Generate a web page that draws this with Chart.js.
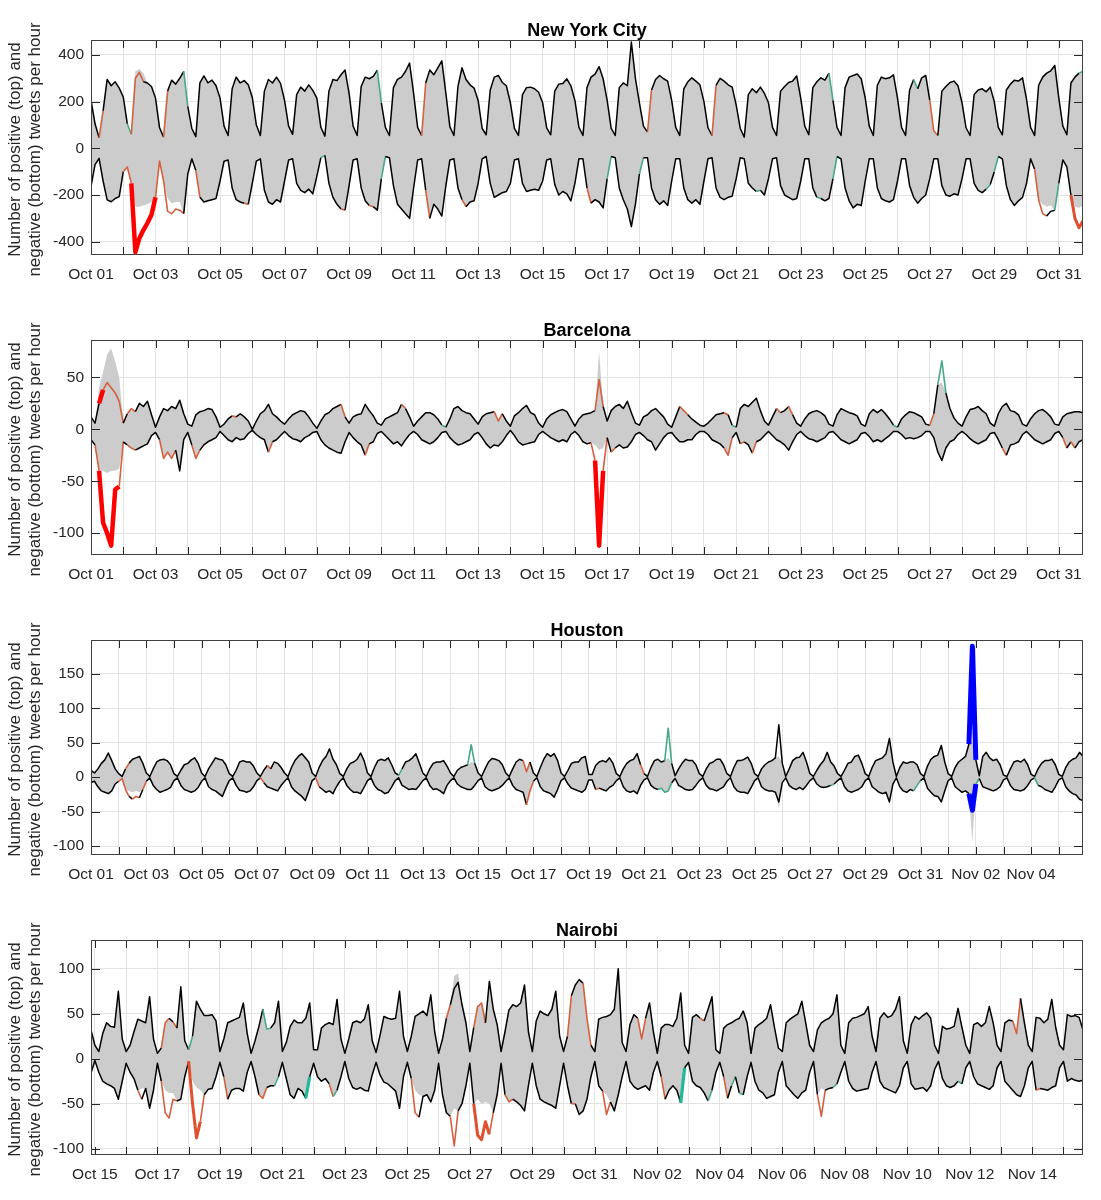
<!DOCTYPE html>
<html lang="en">
<head>
<meta charset="utf-8">
<title>Positive and negative tweets per hour</title>
<script src="https://cdn.jsdelivr.net/npm/chart.js@4.4.1/dist/chart.umd.min.js"></script>
<style>
  html, body { margin: 0; padding: 0; background: #fff; }
  #wrap { position: relative; width: 1101px; height: 1200px; }
  #wrap canvas { position: absolute; left: 0; }
</style>
</head>
<body>
<div id="wrap">
  <canvas id="nyc" width="1101" height="300" style="top:0px"></canvas>
  <canvas id="bcn" width="1101" height="300" style="top:300px"></canvas>
  <canvas id="hou" width="1101" height="300" style="top:600px"></canvas>
  <canvas id="nbo" width="1101" height="300" style="top:900px"></canvas>
</div>
<script>
/* ---------- DATA (3-hourly samples, hour 0 = first labelled day 00:00) ---------- */
const STEP = 3;
const Y_LABEL = ['Number of positive (top) and', 'negative (bottom) tweets per hour'];

// marks: [fromHour, toHour, kind]  o = below band, O = strong below, r = alert, t = above band, T = strong above, b = alert (blue)
// band fixes: [hour, value] where the grey expected range differs from the observed line

/* New York City */
const nycTickLabels = ['Oct 01','Oct 03','Oct 05','Oct 07','Oct 09','Oct 11','Oct 13','Oct 15',
  'Oct 17','Oct 19','Oct 21','Oct 23','Oct 25','Oct 27','Oct 29','Oct 31'];
const nycYTicks = [-400, -200, 0, 200, 400];
const nycPos = [
  207,105,45,160,295,268,285,258,
  220,105,60,300,325,285,280,265,
  215,88,48,245,292,275,300,330,
  180,85,50,280,310,280,292,268,
  215,95,55,255,305,280,290,272,
  218,100,55,245,295,280,305,278,
  205,95,60,230,262,245,272,248,
  215,90,52,245,295,290,315,335,
  235,95,55,265,305,298,308,335,
  195,90,55,260,295,305,330,365,
  235,90,55,280,335,315,345,375,
  235,92,55,265,345,295,272,258,
  205,85,58,250,305,312,282,268,
  195,85,55,230,260,262,255,240,
  195,88,58,245,275,278,298,268,
  205,90,55,260,305,318,350,298,
  205,85,55,260,280,268,455,300,
  195,95,70,250,295,312,298,288,
  205,90,55,255,285,302,288,272,
  200,88,55,270,300,288,272,262,
  185,85,48,230,255,238,262,235,
  195,90,55,245,265,282,288,310,
  215,95,58,260,285,302,292,322,
  205,90,55,260,305,312,318,298,
  215,95,55,270,305,298,302,315,
  215,90,55,250,295,255,302,312,
  205,75,55,245,265,282,288,268,
  195,88,55,230,250,255,242,262,
  200,90,58,250,275,292,288,302,
  210,90,55,270,305,322,332,355,
  215,95,58,280,305,322,330
];
const nycNeg = [
  -164,-70,-43,-140,-221,-229,-215,-207,
  -100,-80,-150,-445,-385,-350,-320,-285,
  -210,-55,-140,-270,-280,-260,-265,-280,
  -110,-45,-95,-210,-230,-225,-220,-215,
  -140,-55,-50,-170,-220,-230,-235,-240,
  -150,-55,-45,-180,-230,-240,-220,-230,
  -140,-50,-45,-150,-180,-190,-175,-195,
  -120,-40,-30,-150,-210,-240,-260,-265,
  -160,-50,-45,-170,-225,-245,-250,-265,
  -130,-35,-40,-160,-240,-260,-280,-300,
  -170,-50,-45,-180,-300,-240,-260,-290,
  -160,-50,-45,-170,-220,-250,-230,-225,
  -150,-45,-35,-150,-210,-200,-190,-185,
  -150,-50,-45,-150,-185,-180,-175,-180,
  -140,-50,-45,-155,-200,-185,-195,-225,
  -150,-45,-45,-170,-235,-220,-230,-255,
  -130,-35,-40,-170,-220,-260,-335,-240,
  -110,-40,-40,-170,-220,-240,-225,-245,
  -140,-45,-45,-170,-220,-235,-220,-240,
  -140,-45,-40,-170,-210,-220,-210,-205,
  -130,-40,-45,-150,-170,-185,-180,-200,
  -130,-45,-40,-160,-200,-210,-220,-215,
  -140,-45,-45,-170,-210,-215,-225,-215,
  -130,-35,-45,-170,-225,-255,-240,-245,
  -140,-45,-45,-170,-215,-225,-230,-220,
  -140,-45,-45,-160,-210,-235,-215,-200,
  -130,-45,-45,-160,-200,-205,-195,-200,
  -130,-45,-45,-150,-180,-190,-175,-155,
  -100,-35,-45,-160,-220,-245,-225,-210,
  -150,-45,-90,-220,-280,-290,-270,-265,
  -150,-50,-80,-200,-300,-340,-310
];
const nycPosMarks = [[6,9,'o'],[27,30,'t'],[30,39,'o'],[54,57,'o'],[69,72,'t'],[213,216,'t'],[246,249,'o'],
  [414,417,'o'],[462,465,'o'],[549,552,'t'],[612,615,'t'],[624,630,'o'],[735,738,'t']];
const nycNegMarks = [[24,30,'o'],[30,48,'r'],[48,69,'o'],[78,81,'o'],[114,117,'o'],[171,174,'t'],[186,189,'o'],
  [207,210,'o'],[216,219,'t'],[249,252,'o'],[276,279,'o'],[369,372,'o'],[384,387,'t'],[408,411,'t'],
  [495,498,'t'],[540,543,'t'],[552,555,'t'],[666,669,'t'],[672,675,'t'],[702,711,'o'],[717,720,'t'],[729,738,'O']];
const nycPosBandFix = [[33,330],[36,340],[39,320]];
const nycNegBandFix = [[33,-250],[36,-250],[39,-245],[42,-240],[45,-230],[57,-215],[60,-235],[63,-230],[66,-230],
  [708,-240],[711,-250],[714,-245],[732,-250],[735,-255],[738,-245]];

/* Barcelona */
const bcnTickLabels = nycTickLabels.slice();
const bcnYTicks = [-100, -50, 0, 50];
const bcnPos = [
  12,6,25,38,45,40,35,27,
  6,15,20,17,25,22,27,14,
  2,12,20,18,22,20,28,15,
  5,3,14,17,18,20,19,12,
  2,5,10,13,12,15,12,8,
  0,8,15,18,24,15,12,8,
  5,10,14,16,18,17,12,6,
  1,8,14,16,20,22,24,12,
  6,12,14,15,24,18,13,6,
  4,10,12,14,16,24,20,12,
  3,8,12,16,16,14,10,4,
  2,10,20,22,18,16,15,10,
  5,12,15,16,17,8,15,8,
  3,13,16,20,23,16,14,6,
  2,10,14,16,18,19,17,10,
  3,10,14,15,16,18,48,22,
  8,18,22,24,20,27,16,6,
  4,12,14,18,20,16,12,5,
  2,12,22,18,14,10,7,4,
  3,6,10,14,15,16,14,4,
  2,20,24,22,26,30,18,8,
  4,12,20,16,18,22,14,6,
  3,10,15,17,18,16,13,5,
  3,14,20,18,16,15,13,5,
  3,15,19,16,19,15,10,4,
  2,10,14,17,16,14,12,5,
  4,15,43,66,35,20,11,6,
  3,12,19,20,22,18,15,6,
  3,15,22,25,18,17,14,5,
  3,10,15,18,19,16,12,5,
  4,12,15,16,17,17,16
];
const bcnNeg = [
  -10,-15,-40,-90,-100,-112,-58,-55,
  -12,-15,-18,-20,-18,-16,-14,-6,
  -3,-10,-28,-22,-28,-20,-40,-10,
  -3,-15,-28,-20,-15,-12,-10,-8,
  -2,-6,-10,-12,-8,-10,-9,-4,
  -1,-5,-8,-10,-22,-12,-10,-6,
  -2,-6,-9,-10,-12,-8,-6,-3,
  -2,-10,-15,-18,-20,-22,-23,-12,
  -3,-8,-12,-15,-25,-14,-12,-4,
  -2,-6,-10,-14,-12,-16,-10,-5,
  -2,-5,-10,-12,-14,-12,-8,-3,
  -2,-8,-12,-15,-14,-12,-10,-5,
  -3,-8,-14,-18,-15,-16,-12,-6,
  -1,-6,-12,-15,-14,-13,-12,-5,
  -2,-5,-8,-10,-12,-10,-12,-5,
  -2,-6,-12,-14,-13,-30,-112,-40,
  -8,-22,-18,-15,-18,-17,-12,-5,
  -3,-6,-10,-12,-20,-14,-8,-4,
  -3,-8,-12,-12,-10,-10,-5,-2,
  -2,-5,-10,-12,-14,-18,-25,-8,
  -3,-14,-12,-15,-23,-12,-10,-6,
  -2,-6,-10,-12,-15,-20,-12,-5,
  -2,-6,-9,-10,-12,-10,-8,-3,
  -2,-6,-10,-12,-14,-12,-10,-4,
  -3,-7,-12,-10,-12,-9,-6,-2,
  -2,-5,-9,-8,-9,-8,-6,-2,
  -2,-8,-22,-30,-18,-12,-10,-5,
  -2,-5,-9,-12,-14,-12,-10,-4,
  -3,-10,-18,-25,-15,-14,-12,-5,
  -2,-6,-10,-12,-14,-12,-10,-4,
  -2,-8,-18,-12,-18,-12,-10
];
const bcnPosMarks = [[6,9,'r'],[9,24,'o'],[27,33,'o'],[105,108,'o'],[186,189,'o'],[231,234,'o'],[261,264,'t'],
  [300,306,'o'],[375,381,'o'],[438,444,'o'],[471,474,'o'],[477,480,'t'],[510,513,'o'],[519,522,'o'],
  [597,600,'t'],[624,627,'o'],[630,636,'t']];
const bcnNegMarks = [[3,6,'o'],[6,21,'r'],[21,24,'o'],[27,33,'o'],[51,63,'o'],[75,81,'o'],[132,135,'o'],
  [204,207,'o'],[372,375,'o'],[375,381,'r'],[381,384,'o'],[387,390,'o'],[471,477,'o'],[483,486,'o'],
  [492,495,'o'],[678,681,'o'],[723,726,'o'],[729,732,'o']];
const bcnPosBandFix = [[6,40],[9,55],[12,72],[15,78],[18,65],[21,50],[378,75],[633,45]];
const bcnNegBandFix = [[9,-40],[12,-42],[15,-40],[18,-40],[21,-38],[375,-15],[378,-20],[381,-18]];

/* Houston */
const houTickLabels = ['Oct 01','Oct 03','Oct 05','Oct 07','Oct 09','Oct 11','Oct 13','Oct 15','Oct 17',
  'Oct 19','Oct 21','Oct 23','Oct 25','Oct 27','Oct 29','Oct 31','Nov 02','Nov 04'];
const houYTicks = [-100, -50, 0, 50, 100, 150];
const houPos = [
  10,6,12,20,25,35,24,12,
  5,1,12,20,26,28,30,20,
  6,1,12,22,25,26,24,18,
  5,1,10,18,20,25,28,20,
  6,1,12,20,28,26,25,18,
  5,1,10,22,24,22,22,16,
  6,1,10,17,12,22,20,14,
  6,1,14,24,30,34,28,22,
  6,1,14,24,30,41,26,18,
  5,1,12,20,22,26,35,24,
  6,1,14,24,26,24,28,18,
  6,3,12,22,24,28,34,20,
  6,1,12,20,22,22,24,16,
  6,1,10,14,16,18,47,20,
  6,1,12,22,27,26,24,18,
  6,1,12,22,26,24,8,22,
  6,1,14,26,34,30,34,24,
  6,1,10,20,22,22,28,30,
  4,4,17,22,24,22,28,20,
  5,1,12,20,24,26,34,18,
  5,1,14,24,26,22,24,71,
  20,2,12,20,26,24,24,18,
  5,1,12,20,22,26,26,18,
  5,1,14,24,24,26,29,20,
  5,1,12,18,22,24,28,76,
  20,1,12,24,28,29,36,22,
  5,1,10,18,24,36,22,16,
  5,1,10,20,22,30,32,20,
  5,1,14,24,26,28,34,56,
  22,1,14,22,20,22,22,18,
  5,1,16,26,30,32,46,22,
  5,1,14,22,26,30,48,190,
  25,2,30,36,28,24,26,18,
  3,1,12,22,24,22,26,18,
  4,1,12,20,24,24,26,18,
  4,1,14,22,26,28,36,30
];
const houNeg = [
  -8,-6,-14,-20,-22,-24,-20,-10,
  -6,-2,-18,-28,-32,-28,-30,-18,
  -6,-1,-12,-18,-22,-20,-18,-15,
  -5,-1,-12,-18,-20,-22,-20,-15,
  -6,-1,-14,-18,-20,-24,-28,-16,
  -5,-1,-12,-19,-20,-22,-20,-14,
  -5,-1,-8,-14,-16,-18,-20,-12,
  -6,-1,-14,-20,-24,-28,-34,-20,
  -5,-1,-14,-18,-22,-20,-24,-14,
  -6,-1,-12,-18,-22,-22,-24,-15,
  -5,-1,-12,-18,-20,-24,-22,-14,
  -5,-1,-12,-15,-18,-17,-18,-12,
  -5,-1,-12,-18,-17,-20,-24,-12,
  -5,-1,-10,-14,-16,-18,-18,-12,
  -5,-1,-14,-18,-20,-18,-16,-12,
  -6,-1,-12,-18,-20,-22,-40,-20,
  -6,-1,-14,-20,-22,-24,-29,-18,
  -5,-1,-10,-16,-18,-20,-22,-18,
  -4,-4,-18,-16,-18,-20,-15,-12,
  -5,-1,-14,-20,-22,-20,-24,-12,
  -4,-1,-12,-16,-18,-16,-22,-20,
  -8,-2,-12,-15,-18,-19,-18,-12,
  -5,-1,-12,-17,-18,-20,-17,-14,
  -6,-1,-14,-20,-22,-22,-24,-15,
  -5,-1,-14,-18,-20,-20,-22,-36,
  -8,-1,-12,-16,-18,-15,-18,-12,
  -5,-1,-10,-14,-15,-14,-12,-10,
  -5,-1,-14,-20,-22,-20,-18,-14,
  -5,-1,-14,-18,-22,-24,-22,-36,
  -10,-1,-14,-20,-22,-18,-20,-12,
  -5,-1,-16,-22,-27,-28,-36,-20,
  -5,-1,-14,-18,-22,-20,-24,-48,
  -10,-2,-14,-16,-18,-20,-18,-14,
  -4,-1,-12,-18,-19,-20,-18,-12,
  -4,-1,-12,-14,-18,-20,-22,-14,
  -4,-1,-14,-20,-24,-26,-32,-34
];
const houPosMarks = [[30,33,'o'],[153,156,'o'],[267,270,'t'],[327,333,'t'],[375,381,'o'],[477,480,'o'],
  [498,504,'t'],[762,768,'b']];
const houNegMarks = [[24,33,'o'],[36,42,'o'],[45,48,'o'],[147,150,'o'],[195,198,'o'],[378,384,'o'],[438,441,'o'],
  [492,504,'t'],[642,645,'t'],[714,720,'t'],[762,768,'b'],[768,771,'t'],[819,822,'t']];
const houPosBandFix = [[330,22],[501,28],[597,30],[765,50]];
const houNegBandFix = [[33,-20],[36,-22],[39,-20],[42,-22],[597,-45],[765,-95]];

/* Nairobi (first sample is Oct 14 21:00) */
const nboTickLabels = ['Oct 15','Oct 17','Oct 19','Oct 21','Oct 23','Oct 25','Oct 27','Oct 29',
  'Oct 31','Nov 02','Nov 04','Nov 06','Nov 08','Nov 10','Nov 12','Nov 14'];
const nboYTicks = [-100, -50, 0, 50, 100];
const nboPos = [
  32,
  15,8,28,40,36,35,75,22,
  8,15,30,44,42,40,69,22,
  6,12,40,45,41,34,80,20,
  10,25,64,55,48,48,49,42,
  8,22,40,42,44,46,62,28,
  6,20,36,55,33,34,40,64,
  8,18,36,43,40,40,45,62,
  10,10,34,38,40,38,66,22,
  6,22,40,42,40,44,60,20,
  7,26,47,45,44,45,75,25,
  8,25,47,50,53,48,71,30,
  6,22,45,60,78,85,60,40,
  8,35,58,62,40,86,55,38,
  8,30,54,60,58,62,82,30,
  8,42,53,50,48,55,75,25,
  8,25,70,82,88,84,45,15,
  8,44,46,47,49,55,100,18,
  8,38,49,45,22,45,62,30,
  6,34,38,38,36,45,73,15,
  6,46,49,45,42,55,69,10,
  6,34,38,40,43,45,53,40,
  6,34,38,41,45,60,35,12,
  8,40,44,47,50,64,40,15,
  8,32,40,43,45,50,71,15,
  6,40,45,46,48,50,58,25,
  8,45,51,46,48,55,69,20,
  6,38,47,44,48,51,45,15,
  6,36,33,34,36,56,35,15,
  6,38,40,36,40,58,40,15,
  8,40,43,42,28,67,40,15,
  8,46,45,40,44,66,35,15,
  10,49,47,48,46,32
];
const nboNeg = [
  -16,
  -2,-15,-25,-28,-30,-33,-45,-25,
  -5,-15,-22,-35,-45,-33,-55,-35,
  -5,-25,-60,-66,-45,-47,-45,-20,
  -3,-50,-88,-70,-40,-34,-33,-20,
  -4,-20,-45,-35,-33,-33,-36,-15,
  -3,-20,-40,-44,-32,-30,-30,-20,
  -4,-22,-40,-44,-33,-36,-44,-20,
  -5,-20,-25,-22,-28,-42,-35,-20,
  -3,-22,-32,-34,-32,-35,-36,-18,
  -4,-18,-26,-28,-32,-36,-55,-20,
  -4,-22,-60,-65,-42,-40,-48,-35,
  -5,-40,-60,-64,-97,-58,-50,-30,
  -5,-50,-85,-90,-70,-84,-60,-40,
  -5,-40,-48,-45,-48,-52,-58,-30,
  -5,-30,-45,-48,-50,-52,-55,-30,
  -5,-30,-50,-50,-62,-58,-45,-20,
  -3,-30,-36,-62,-48,-58,-40,-20,
  -3,-25,-31,-34,-32,-30,-35,-15,
  -3,-20,-45,-35,-30,-35,-49,-10,
  -4,-25,-30,-32,-38,-47,-35,-15,
  -4,-20,-44,-30,-20,-38,-40,-20,
  -4,-25,-35,-38,-44,-42,-40,-15,
  -3,-30,-35,-40,-44,-38,-35,-15,
  -3,-40,-64,-35,-33,-32,-28,-15,
  -3,-25,-33,-36,-35,-34,-33,-15,
  -3,-25,-32,-34,-36,-38,-30,-10,
  -3,-28,-34,-33,-32,-36,-30,-12,
  -3,-22,-30,-32,-30,-25,-28,-10,
  -3,-20,-28,-30,-32,-34,-30,-10,
  -3,-25,-30,-35,-40,-42,-30,-10,
  -3,-35,-33,-34,-35,-32,-30,-10,
  -3,-25,-22,-24,-25,-24
];
const nboPosMarks = [[51,57,'o'],[60,63,'o'],[72,75,'t'],[129,135,'t'],[270,273,'o'],[291,300,'o'],[363,366,'o'],
  [375,381,'o'],[417,423,'o'],[465,468,'o'],[705,711,'o']];
const nboNegMarks = [[33,36,'o'],[51,63,'o'],[72,81,'O'],[81,84,'o'],[99,102,'o'],[126,132,'o'],[138,141,'t'],
  [162,165,'T'],[180,183,'o'],[183,186,'t'],[243,249,'o'],[273,279,'o'],[291,303,'O'],[303,306,'o'],[315,321,'o'],
  [366,369,'o'],[390,396,'o'],[435,438,'o'],[450,453,'T'],[471,474,'t'],[483,486,'o'],[489,492,'t'],[495,498,'t'],
  [555,561,'o'],[567,570,'t'],[663,666,'t'],[723,726,'o']];
const nboPosBandFix = [[276,92],[279,95],[303,90]];
const nboNegBandFix = [[36,-33],[54,-35],[57,-38],[60,-38],[75,-25],[78,-32],[81,-35],[246,-35],[249,-40],
  [276,-55],[294,-45],[297,-50],[300,-48],[303,-50],[393,-40],[558,-33]];

/* ---------- STYLES ---------- */
const FONT = '"Liberation Sans", Arial, Helvetica, sans-serif';
const INK = '#262626';
const GRID = '#e3e3e3';
const BAND = '#cccccc';
const MARK_STYLE = {
  o: ['#d5603f', 1.6],
  O: ['#e0502e', 3],
  r: ['#ff0000', 4.5],
  t: ['#45a98a', 1.6],
  T: ['#1fb99a', 3.2],
  b: ['#0000ff', 5]
};

/* ---------- HELPERS ---------- */
function toPoints(values, start) {
  return values.map((v, i) => ({ x: start + i * STEP, y: v }));
}

function withFixes(values, start, fixes) {
  const out = values.slice();
  fixes.forEach(([h, v]) => { out[(h - start) / STEP] = v; });
  return out;
}

function markFor(marks, ctx) {
  const x0 = ctx.p0.parsed.x, x1 = ctx.p1.parsed.x;
  return marks.find(m => x0 >= m[0] && x1 <= m[1]);
}

function lineDataset(values, start, marks) {
  return {
    data: toPoints(values, start),
    borderColor: '#000',
    borderWidth: 1.5,
    borderJoinStyle: 'round',
    pointRadius: 0,
    fill: false,
    order: 1,
    segment: {
      borderColor: ctx => { const m = markFor(marks, ctx); return m ? MARK_STYLE[m[2]][0] : undefined; },
      borderWidth: ctx => { const m = markFor(marks, ctx); return m ? MARK_STYLE[m[2]][1] : undefined; }
    }
  };
}

// inward tick marks, box, title and the two-line y label
const framePlugin = {
  id: 'frame',
  afterDraw(chart, args, opts) {
    const { ctx, chartArea: a, scales: { x, y } } = chart;
    ctx.save();
    ctx.strokeStyle = INK;
    ctx.lineWidth = 1;
    ctx.beginPath();
    x.ticks.forEach(t => {
      const px = Math.round(x.getPixelForValue(t.value)) + 0.5;
      ctx.moveTo(px, a.bottom); ctx.lineTo(px, a.bottom - 8);
      ctx.moveTo(px, a.top); ctx.lineTo(px, a.top + 8);
    });
    y.ticks.forEach(t => {
      const py = Math.round(y.getPixelForValue(t.value)) + 0.5;
      ctx.moveTo(a.left, py); ctx.lineTo(a.left + 9, py);
      ctx.moveTo(a.right, py); ctx.lineTo(a.right - 9, py);
    });
    ctx.stroke();
    ctx.strokeStyle = '#404040';
    ctx.strokeRect(a.left + 0.5, a.top + 0.5, a.right - a.left - 1, a.bottom - a.top - 1);

    ctx.fillStyle = '#000';
    ctx.font = 'bold 18px ' + FONT;
    ctx.textAlign = 'center';
    ctx.textBaseline = 'middle';
    ctx.fillText(opts.title, (a.left + a.right) / 2, 31);

    ctx.fillStyle = INK;
    ctx.font = '17px ' + FONT;
    ctx.translate(0, (a.top + a.bottom) / 2 + 2);
    ctx.rotate(-Math.PI / 2);
    ctx.fillText(Y_LABEL[0], 0, 15);
    ctx.fillText(Y_LABEL[1], 0, 35);
    ctx.restore();
  }
};

/* ---------- PANELS ---------- */
const PANELS = [
  { id: 'nyc', title: 'New York City', start: 0, end: 738, yMin: -457, yMax: 464, yTicks: nycYTicks,
    labels: nycTickLabels, pos: nycPos, neg: nycNeg, posMarks: nycPosMarks, negMarks: nycNegMarks,
    posFix: nycPosBandFix, negFix: nycNegBandFix },
  { id: 'bcn', title: 'Barcelona', start: 0, end: 738, yMin: -121, yMax: 86, yTicks: bcnYTicks,
    labels: bcnTickLabels, pos: bcnPos, neg: bcnNeg, posMarks: bcnPosMarks, negMarks: bcnNegMarks,
    posFix: bcnPosBandFix, negFix: bcnNegBandFix },
  { id: 'hou', title: 'Houston', start: 0, end: 861, yMin: -113, yMax: 199, yTicks: houYTicks,
    labels: houTickLabels, pos: houPos, neg: houNeg, posMarks: houPosMarks, negMarks: houNegMarks,
    posFix: houPosBandFix, negFix: houNegBandFix },
  { id: 'nbo', title: 'Nairobi', start: -3, end: 759, yMin: -107, yMax: 132, yTicks: nboYTicks,
    labels: nboTickLabels, pos: nboPos, neg: nboNeg, posMarks: nboPosMarks, negMarks: nboNegMarks,
    posFix: nboPosBandFix, negFix: nboNegBandFix }
];

function renderPanel(p) {
  const bandHi = withFixes(p.pos, p.start, p.posFix);
  const bandLo = withFixes(p.neg, p.start, p.negFix);
  const dayTicks = [];
  for (let h = Math.ceil(p.start / 24) * 24; h <= p.end; h += 24) dayTicks.push({ value: h });

  new Chart(document.getElementById(p.id), {
    type: 'line',
    data: {
      datasets: [
        lineDataset(p.pos, p.start, p.posMarks),
        lineDataset(p.neg, p.start, p.negMarks),
        { data: toPoints(bandHi, p.start), borderWidth: 0, borderColor: 'rgba(0,0,0,0)', pointRadius: 0,
          backgroundColor: BAND, fill: '+1', order: 2 },
        { data: toPoints(bandLo, p.start), borderWidth: 0, borderColor: 'rgba(0,0,0,0)', pointRadius: 0,
          fill: false, order: 2 }
      ]
    },
    options: {
      responsive: false,
      animation: false,
      events: [],
      layout: { padding: { left: 0, top: 40, right: 18, bottom: 0 } },
      plugins: { legend: { display: false }, tooltip: { enabled: false }, frame: { title: p.title } },
      scales: {
        x: {
          type: 'linear', min: p.start, max: p.end,
          afterBuildTicks: ax => { ax.ticks = dayTicks.slice(); },
          afterFit: s => { s.height = 45; },
          grid: { color: GRID, drawTicks: false },
          border: { display: false },
          ticks: {
            autoSkip: false, maxRotation: 0, minRotation: 0, padding: 10, color: INK,
            font: { family: FONT, size: 15.5 },
            callback: v => { const d = Math.round(v / 24); return d % 2 === 0 ? (p.labels[d / 2] || '') : ''; }
          }
        },
        y: {
          type: 'linear', min: p.yMin, max: p.yMax,
          afterBuildTicks: ax => { ax.ticks = p.yTicks.map(v => ({ value: v })); },
          afterFit: s => { s.width = 91; },
          grid: { color: GRID, drawTicks: false },
          border: { display: false },
          ticks: { padding: 7, color: INK, font: { family: FONT, size: 15.5 }, callback: v => String(v) }
        }
      }
    },
    plugins: [framePlugin]
  });
}

/* ---------- INIT ---------- */
PANELS.forEach(renderPanel);
</script>
</body>
</html>
